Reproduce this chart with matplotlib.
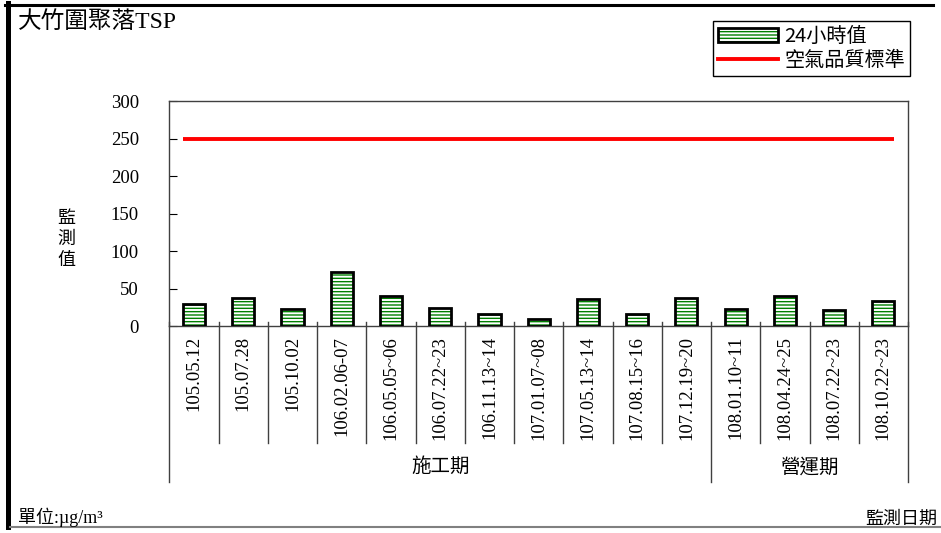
import matplotlib.pyplot as plt
from matplotlib.patches import Patch
from matplotlib.lines import Line2D

# 監測資料
dates = ['105.05.12', '105.07.28', '105.10.02', '106.02.06-07', '106.05.05~06',
         '106.07.22~23', '106.11.13~14', '107.01.07~08', '107.05.13~14', '107.08.15~16',
         '107.12.19~20', '108.01.10~11', '108.04.24~25', '108.07.22~23', '108.10.22~23']
tsp = [30, 38, 23, 72, 40, 25, 16, 10, 36, 16, 38, 23, 41, 22, 34]
standard = 250
phases = ['施工期', '營運期']
phase_sizes = [11, 4]

serif_cjk = ['Liberation Serif', 'Noto Sans CJK TC']
sans_cjk = ['Noto Sans CJK TC', 'DejaVu Sans']

fig = plt.figure(figsize=(9.41, 5.33), dpi=100)
ax = fig.add_axes([0.1801, 0.3876, 0.7848, 0.4221])

x = list(range(len(dates)))
bw = 0.45
# 綠色橫紋 + 黑框
ax.bar(x, tsp, width=bw, color='white', edgecolor='green', hatch='-----', linewidth=0, zorder=2)
ax.bar(x, tsp, width=bw, fill=False, edgecolor='black', linewidth=2, zorder=3)
ax.hlines(standard, x[0] - bw / 2, x[-1] + bw / 2, color='red', lw=2.8, zorder=4)

ax.set_xlim(-0.5, len(dates) - 0.5)
ax.set_ylim(0, 300)
ax.set_yticks(range(0, 301, 50))
ax.tick_params(axis='y', direction='in', length=6, pad=22, labelsize=13.5)
for lab in ax.get_yticklabels():
    lab.set_family('Liberation Serif')
ax.set_xticks(x, dates, rotation=90, family='Liberation Serif', fontsize=13.5)
ax.tick_params(axis='x', length=0, pad=7)
for s in ax.spines.values():
    s.set_color('#404040')
    s.set_linewidth(1)

# 類別分隔線與期別
trans = ax.get_xaxis_transform()
edges = [0]
for n in phase_sizes:
    edges.append(edges[-1] + n)
for b in range(len(dates) + 1):
    low = -0.69 if b in edges else -0.517
    ax.plot([b - 0.5] * 2, [0.02, low], transform=trans, color='#404040', lw=1, clip_on=False)
for i, name in enumerate(phases):
    center = (edges[i] + edges[i + 1]) / 2 - 0.5
    ax.text(center, -0.624, name, transform=trans, ha='center', va='center',
            family=sans_cjk, fontsize=14)

fig.text(66 / 941, 1 - 239 / 533, '監\n測\n值', ha='center', va='center',
         family=sans_cjk, fontsize=13, linespacing=1.25)

# 圖例
h_bar = (Patch(facecolor='white', edgecolor='green', hatch='-----', lw=0),
         Patch(fill=False, edgecolor='black', lw=2))
h_line = Line2D([], [], color='red', lw=2.8)
leg = fig.legend([h_bar, h_line], ['24小時值', '空氣品質標準'], loc='upper right',
                 bbox_to_anchor=(910 / 941, 1 - 21 / 533), frameon=True, fancybox=False,
                 edgecolor='black', prop={'family': sans_cjk, 'size': 14.5},
                 handlelength=3.0, handletextpad=0.3, borderpad=0.25, labelspacing=0.15,
                 borderaxespad=0)
leg.get_frame().set_linewidth(1)
leg.get_frame().set_alpha(None)

fig.text(18 / 941, 1 - 22 / 533, '大竹圍聚落TSP', ha='left', va='center',
         family=serif_cjk, fontsize=17)
fig.text(18 / 941, 1 - 517 / 533, '單位:µg/m³', ha='left', va='center',
         family=serif_cjk, fontsize=13)
fig.text(937 / 941, 1 - 519 / 533, '監測日期', ha='right', va='center',
         family=sans_cjk, fontsize=13)

# 外框
fig.add_artist(Line2D([7.5 / 941] * 2, [6 / 533, 1 - 3 / 533], transform=fig.transFigure,
                      color='black', lw=3.6))
fig.add_artist(Line2D([5 / 941, 933 / 941], [1 - 5 / 533] * 2, transform=fig.transFigure,
                      color='black', lw=2.2))
fig.add_artist(Line2D([10 / 941, 1], [6 / 533] * 2, transform=fig.transFigure,
                      color='#808080', lw=1.5))

fig.savefig('out.png', dpi=100)
